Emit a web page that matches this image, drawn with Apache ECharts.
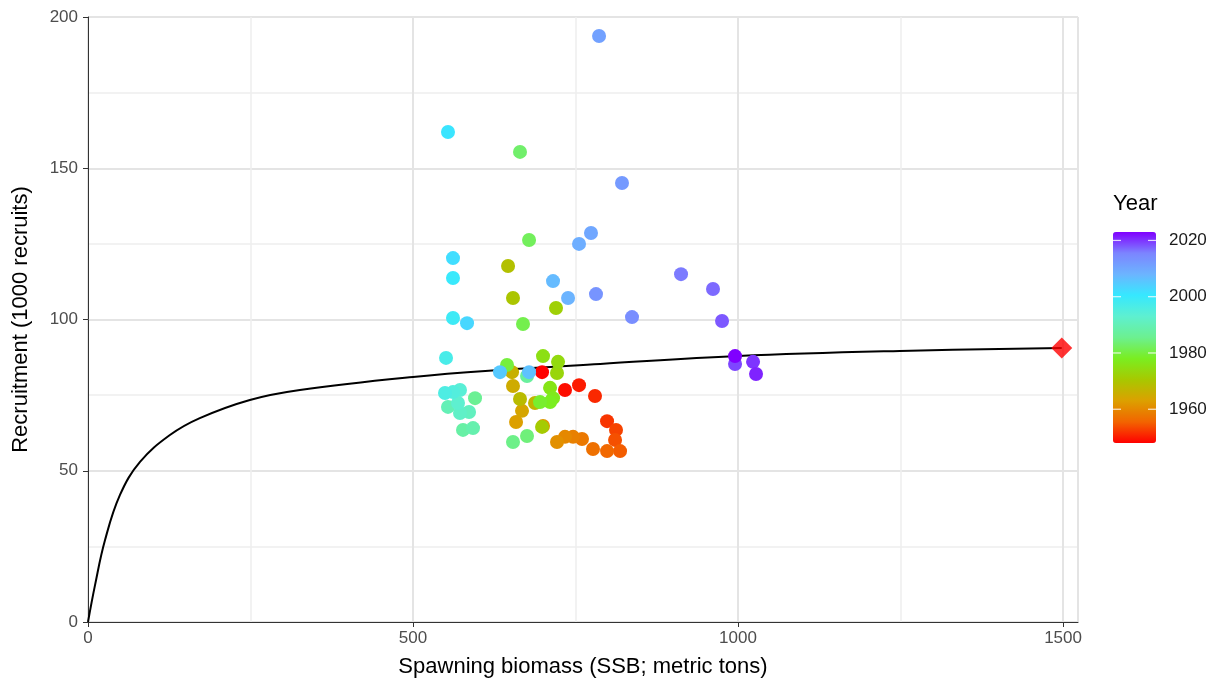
<!DOCTYPE html>
<html>
<head>
<meta charset="utf-8">
<script src="https://cdn.jsdelivr.net/npm/echarts@6/dist/echarts.min.js"></script>
<style>
html,body{margin:0;padding:0;background:#fff;}
#chart{width:1217px;height:687px;}
</style>
</head>
<body>
<div id="chart"></div>
<script>
// ---- data ----
const years = [1948,1949,1950,1951,1952,1953,1954,1955,1956,1957,1958,1959,1960,1961,1962,1963,1964,1965,1966,1967,1968,1969,1970,1971,1972,1973,1974,1975,1976,1977,1978,1979,1980,1981,1982,1983,1984,1985,1986,1987,1988,1989,1990,1991,1992,1993,1994,1995,1996,1997,1999,2000,2001,2002,2003,2005,2006,2007,2008,2009,2010,2011,2012,2013,2014,2016,2017,2018,2019,2020,2021,2023];
const ssb = [698.5,733.8,755.4,780.0,798.5,812.3,810.8,818.5,798.5,776.9,760.0,746.2,733.8,721.5,700.0,658.5,667.7,653.8,652.3,687.7,664.6,646.2,653.8,698.5,720.0,721.5,723.1,700.0,710.8,715.4,710.8,695.4,644.6,669.2,678.5,664.6,675.4,653.8,595.4,675.4,576.9,592.3,553.8,586.2,572.3,569.2,572.3,561.5,549.2,550.8,561.5,561.5,553.8,561.5,583.1,633.8,678.5,715.4,738.5,755.4,773.8,786.2,821.5,781.5,836.9,912.3,961.5,975.4,995.4,1023.1,1027.7,995.4];
const recruits = [82.6,76.7,78.3,74.7,66.4,63.5,60.2,56.5,56.5,57.2,60.5,61.2,61.2,59.5,64.8,66.1,69.8,78.0,82.6,72.4,73.7,117.7,107.1,64.5,103.8,82.3,86.0,87.9,77.4,74.0,72.7,72.7,85.0,98.5,126.3,155.4,61.5,59.5,74.0,81.3,63.5,64.1,71.1,69.4,69.1,72.4,76.7,76.0,75.7,87.3,100.5,113.7,162.0,120.3,98.8,82.6,82.6,112.7,107.1,125.0,128.6,193.7,145.1,108.4,100.8,115.0,110.1,99.5,85.3,86.0,82.0,87.9];
const curveSSB = [0,10.8,26.2,49.2,80,126,172,249,326,500,634,788,1000,1249,1498];
const curveRec = [0,12.2,27.1,42.0,52.9,61.8,67.4,73.4,76.7,81.0,83.3,85.3,87.9,89.6,90.6];
const refSSB = [1498];
const refRec = [90.6];
const xTicks = [0,500,1000,1500];
const yTicks = [0,50,100,150,200];
const legendTicks = [1960,1980,2000,2020];
const yearMin = 1948, yearMax = 2023;
const rampColors = ['#ff0000','#f26400','#dca000','#a8c800','#7aee20','#6cf090','#5ef0d0','#36e8ff','#6cb4ff','#7c84ff','#8000ff'];

// ---- layout ----
const barLeft = 1113, barTop = 232, barW = 43, barH = 211;

const scatterData = years.map((y,i)=>[ssb[i], recruits[i], y]);
const curveData = curveSSB.map((s,i)=>[s, curveRec[i]]);
const refData = refSSB.map((s,i)=>[s, refRec[i]]);

const graphics = [
  {type:'text', left:barLeft, top:193, style:{text:'Year', font:'22px "Liberation Sans", Arial, sans-serif', fill:'#000'}}
];
legendTicks.forEach(t=>{
  const y = barTop + (yearMax - t)/(yearMax - yearMin)*barH;
  graphics.push({type:'text', x:barLeft+barW+13, y:y, style:{text:String(t), font:'17px "Liberation Sans", Arial, sans-serif', fill:'#1a1a1a', verticalAlign:'middle'}, z:10});
  graphics.push({type:'line', shape:{x1:barLeft, y1:y, x2:barLeft+8, y2:y}, style:{stroke:'#ffffff', lineWidth:1.2, opacity:0.8}, z:10});
  graphics.push({type:'line', shape:{x1:barLeft+barW-8, y1:y, x2:barLeft+barW, y2:y}, style:{stroke:'#ffffff', lineWidth:1.2, opacity:0.8}, z:10});
});

const chart = echarts.init(document.getElementById('chart'), null, {renderer:'canvas'});
chart.setOption({
  animation:false,
  backgroundColor:'#ffffff',
  grid:{left:88, top:17, width:990, height:605, show:true, borderColor:'#333333', borderWidth:1, backgroundColor:'#ffffff', containLabel:false},
  xAxis:{
    type:'value', min:0, max:1523, interval:500,
    name:'Spawning biomass (SSB; metric tons)', nameLocation:'middle', nameGap:34,
    nameTextStyle:{fontSize:22, color:'#000', fontFamily:'Liberation Sans'},
    axisLine:{show:true, onZero:false, lineStyle:{color:'#333333', width:1}},
    axisTick:{show:true, length:5, lineStyle:{color:'#333333'}},
    axisLabel:{color:'#4d4d4d', fontSize:17, fontFamily:'Liberation Sans', margin:8, showMaxLabel:false,
      formatter:v=> xTicks.includes(v)? String(v):''},
    splitLine:{show:true, lineStyle:{color:'#e4e4e4', width:2}},
    minorTick:{show:false, splitNumber:2},
    minorSplitLine:{show:true, lineStyle:{color:'#eeeeee', width:1.5}}
  },
  yAxis:{
    type:'value', min:0, max:200, interval:50,
    name:'Recruitment (1000 recruits)', nameLocation:'middle', nameGap:56, nameRotate:90,
    nameTextStyle:{fontSize:22, color:'#000', fontFamily:'Liberation Sans'},
    axisLine:{show:true, onZero:false, lineStyle:{color:'#333333', width:1}},
    axisTick:{show:true, length:5, lineStyle:{color:'#333333'}},
    axisLabel:{color:'#4d4d4d', fontSize:17, fontFamily:'Liberation Sans', margin:10,
      formatter:v=> yTicks.includes(v)? String(v):''},
    splitLine:{show:true, lineStyle:{color:'#e4e4e4', width:2}},
    minorTick:{show:false, splitNumber:2},
    minorSplitLine:{show:true, lineStyle:{color:'#eeeeee', width:1.5}}
  },
  visualMap:{
    type:'continuous', min:yearMin, max:yearMax, dimension:2, seriesIndex:1,
    orient:'vertical', left:barLeft, top:barTop, itemWidth:barW, itemHeight:barH,
    padding:0, text:null, calculable:false, showLabel:false,
    inRange:{color:rampColors},
    textStyle:{color:'transparent'}
  },
  series:[
    {type:'line', data:curveData, smooth:0.4, showSymbol:false, symbol:'none',
     lineStyle:{color:'#000', width:2}, z:2, silent:true},
    {type:'scatter', data:scatterData, symbolSize:14, z:3, itemStyle:{opacity:1}},
    {type:'scatter', data:refData, symbol:'diamond', symbolSize:21, itemStyle:{color:'#ff0000'}, z:4}
  ],
  graphic:graphics
});
</script>
</body>
</html>
